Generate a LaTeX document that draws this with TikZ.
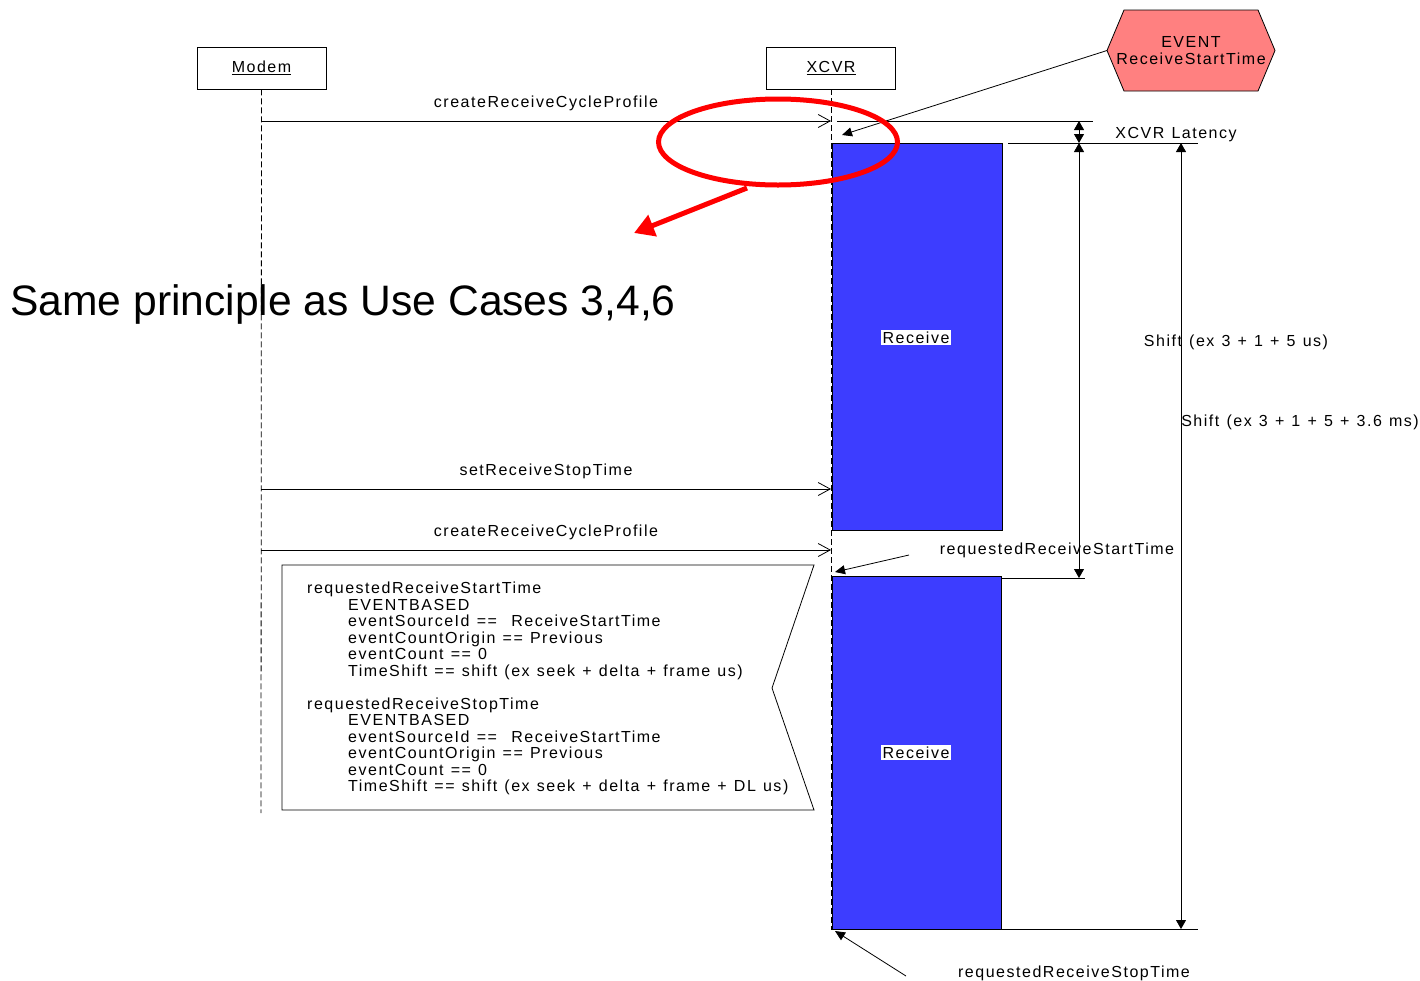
\documentclass[tikz,border=0pt]{standalone}
\usepackage{fontspec}
\setmainfont{Liberation Sans}
\newfontfamily\lblfont[LetterSpace=9.5,WordSpace=1.2]{Liberation Sans}
\usetikzlibrary{arrows.meta,shapes.geometric}

\definecolor{rxblue}{RGB}{61,61,255}
\definecolor{evred}{RGB}{255,128,128}
\definecolor{hlred}{RGB}{255,0,0}

\tikzset{
  lbl/.style={font=\lblfont\fontsize{16}{16.5}\selectfont, inner sep=0pt},
  lifebox/.style={draw, line width=0.8pt, minimum width=129pt, minimum height=42pt, lbl},
  lifeline/.style={line width=0.8pt, dash pattern=on 6pt off 3pt},
  msg/.style={line width=0.8pt, -{Straight Barb[length=12pt,width=13pt]}},
  thin line/.style={line width=0.8pt},
  dimarrow/.style={line width=0.8pt, {Triangle[length=9pt,width=10pt]}-{Triangle[length=9pt,width=10pt]}},
  pointer/.style={line width=0.8pt, -{Triangle[length=10pt,width=9pt]}},
  rxbox/.style={draw=black, line width=0.8pt, fill=rxblue, inner sep=0pt},
  rxlabel/.style={lbl, fill=white, inner xsep=1.5pt, inner ysep=2pt},
  hexagon fill/.style={draw, line width=0.8pt, fill=evred},
  highlight/.style={draw=hlred, line width=5pt, ellipse, minimum width=239pt, minimum height=86pt, inner sep=0pt},
  bigarrow/.style={draw=hlred, line width=5pt, -{Triangle[length=20pt,width=22pt]}},
}

\begin{document}
\begin{tikzpicture}[x=1pt,y=-1pt]
\useasboundingbox (0,0) rectangle (1420,980);

% lifeline heads
\node[lifebox] (modem) at (261.5,68) {\underline{Modem}};
\node[lifebox] (xcvr) at (831,68) {\underline{XCVR}};

% receive windows
\node[rxbox, minimum width=170pt, minimum height=387pt] (rx1) at (917,336.5) {};
\node[rxbox, minimum width=169pt, minimum height=353pt] (rx2) at (916.5,752.5) {};
\node[rxlabel] (rx1lbl) at (916,337.5) {Receive};
\node[rxlabel] (rx2lbl) at (916,752.5) {Receive};

% lifelines
\coordinate (modemEnd) at (261,813);
\coordinate (xcvrEnd) at (831,930);
\draw[lifeline] (modem.south) -- (modemEnd);
\draw[lifeline] (xcvr.south -| xcvrEnd) -- (xcvrEnd);

% messages
\coordinate (m1a) at (261,121); \coordinate (m1b) at (831,121);
\coordinate (m2a) at (261,489); \coordinate (m2b) at (831,489);
\coordinate (m3a) at (261,550); \coordinate (m3b) at (831,550);
\draw[msg] (m1a) -- (m1b);
\draw[msg] (m2a) -- (m2b);
\draw[msg] (m3a) -- (m3b);
\node[lbl] (m1lbl) at (546,103.5) {createReceiveCycleProfile};
\node[lbl] (m2lbl) at (546,471.5) {setReceiveStopTime};
\node[lbl] (m3lbl) at (546,532.5) {createReceiveCycleProfile};

% dimension extension lines
\coordinate (e1a) at (837,121);  \coordinate (e1b) at (1093,121);
\coordinate (e2a) at (1008,143); \coordinate (e2b) at (1198,143);
\coordinate (e3a) at (1001,578); \coordinate (e3b) at (1085,578);
\coordinate (e4a) at (832,929);  \coordinate (e4b) at (1198,929);
\draw[thin line] (e1a) -- (e1b);
\draw[thin line] (e2a) -- (e2b);
\draw[thin line] (e3a) -- (e3b);
\draw[thin line] (e4a) -- (e4b);

% dimension arrows
\coordinate (latTop) at (1079,121); \coordinate (latBot) at (1079,143);
\coordinate (sh1Bot) at (1079,578);
\coordinate (sh2Top) at (1181,143); \coordinate (sh2Bot) at (1181,929);
\draw[dimarrow] (latTop) -- (latBot);
\draw[dimarrow] (latBot) -- (sh1Bot);
\draw[dimarrow] (sh2Top) -- (sh2Bot);
\node[lbl] (latLbl) at (1176,134.5) {XCVR Latency};
\node[lbl] (sh1Lbl) at (1236,342.5) {Shift (ex 3 + 1 + 5 us)};
\node[lbl] (sh2Lbl) at (1300,422.5) {Shift (ex 3 + 1 + 5 + 3.6 ms)};

% start / stop annotations
\node[lbl] (startLbl) at (1057,550.5) {requestedReceiveStartTime};
\node[lbl] (stopLbl) at (1074,973.5) {requestedReceiveStopTime};
\coordinate (startFrom) at (909,555); \coordinate (startTo) at (835,572);
\coordinate (stopFrom) at (906,976);  \coordinate (stopTo) at (835,931);
\draw[pointer] (startFrom) -- (startTo);
\draw[pointer] (stopFrom) -- (stopTo);

% parameter note
\coordinate (n1) at (282,565); \coordinate (n2) at (814,565);
\coordinate (n3) at (772,688); \coordinate (n4) at (814,810);
\coordinate (n5) at (282,810);
\draw[thin line] (n1) -- (n2) -- (n3) -- (n4) -- (n5) -- cycle;
\node[lbl, anchor=north west, align=left] (note) at (307,582) {%
requestedReceiveStartTime\\
\hspace*{41pt}EVENTBASED\\
\hspace*{41pt}eventSourceId ==\ \ ReceiveStartTime\\
\hspace*{41pt}eventCountOrigin == Previous\\
\hspace*{41pt}eventCount == 0\\
\hspace*{41pt}TimeShift == shift (ex seek + delta + frame us)\\[16.5pt]
requestedReceiveStopTime\\
\hspace*{41pt}EVENTBASED\\
\hspace*{41pt}eventSourceId ==\ \ ReceiveStartTime\\
\hspace*{41pt}eventCountOrigin == Previous\\
\hspace*{41pt}eventCount == 0\\
\hspace*{41pt}TimeShift == shift (ex seek + delta + frame + DL us)};

% headline
\node[font=\fontsize{42.6}{50}\selectfont, inner sep=0pt] (title) at (343,304) {Same principle as Use Cases 3,4,6};

% event source (hexagon outline with its label)
\coordinate (hxL) at (1107,50.5);  \coordinate (hxTL) at (1124,10);
\coordinate (hxTR) at (1258,10);   \coordinate (hxR) at (1275,50.5);
\coordinate (hxBR) at (1258,91);   \coordinate (hxBL) at (1124,91);
\draw[hexagon fill] (hxL) -- (hxTL) -- (hxTR) -- (hxR) -- (hxBR) -- (hxBL) -- cycle;
\node[lbl, align=center] (ev) at (1191,50.5) {EVENT\\ReceiveStartTime};
\coordinate (evTo) at (842,135);
\draw[pointer] (hxL) -- (evTo);

% highlight
\node[highlight] (hl) at (778,142) {};
\coordinate (hlFrom) at (747,188);
\coordinate (hlTo) at (634,233);
\draw[bigarrow] (hlFrom) -- (hlTo);
\end{tikzpicture}
\end{document}
